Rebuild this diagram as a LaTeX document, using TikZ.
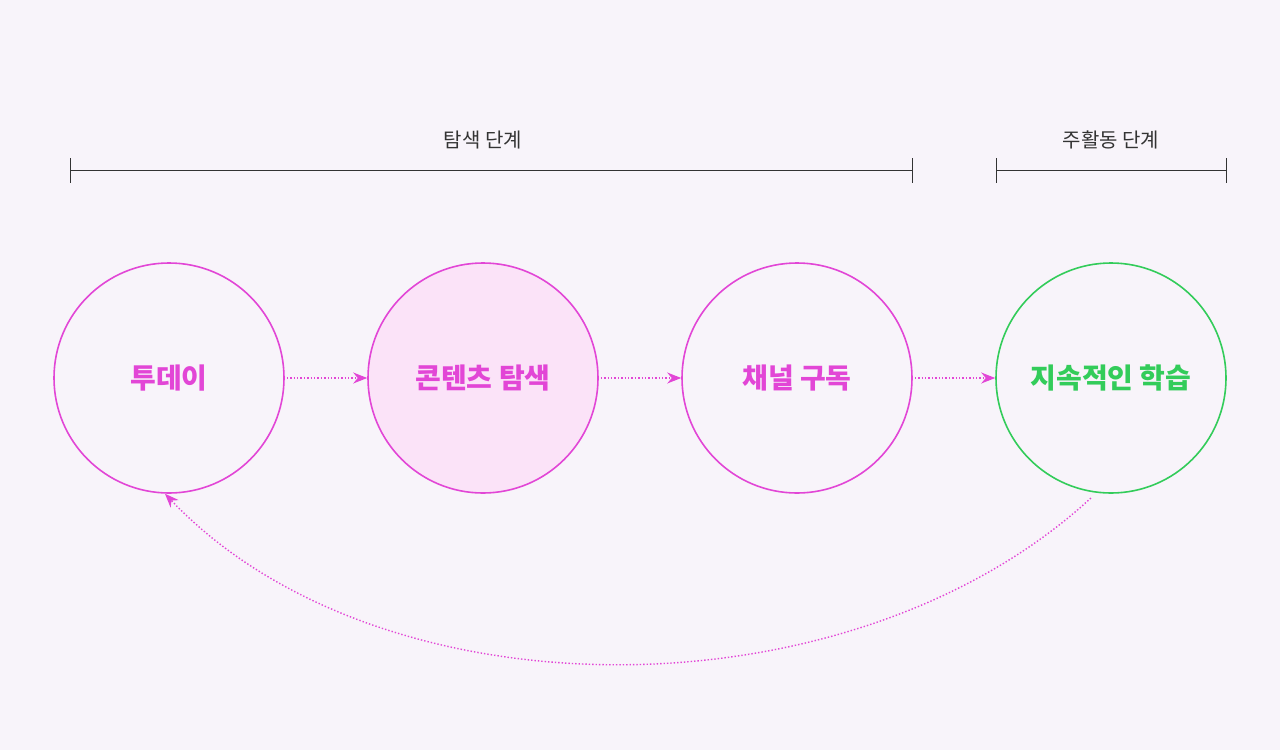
\documentclass[tikz,border=0pt]{standalone}
\usepackage{fontspec}
\setmainfont{Noto Sans CJK KR}
\usetikzlibrary{arrows.meta}
\definecolor{bg}{HTML}{F8F4FA}
\definecolor{mag}{HTML}{E246D6}
\definecolor{magfill}{HTML}{FBE3F8}
\definecolor{grn}{HTML}{33CC5A}
\definecolor{txt}{HTML}{333333}
\begin{document}
\begin{tikzpicture}[x=1pt,y=-1pt,
  stage/.style={circle,draw=mag,line width=1.6pt,minimum size=230pt,inner sep=0pt,font=\fontsize{28}{30}\selectfont\bfseries,text=mag},
  flow/.style={mag,line width=1.4pt,dotted,-{Stealth[length=14pt,width=11pt]}},
  brk/.style={txt,line width=0.8pt},
  hdr/.style={font=\fontsize{20}{22}\selectfont,text=txt}]
\fill[bg] (0,0) rectangle (1280,750);
\useasboundingbox (0,0) rectangle (1280,750);
\node[stage] (a) at (169,378) {투데이};
\node[stage,fill=magfill] (b) at (483,378) {콘텐츠 탐색};
\node[stage] (c) at (797,378) {채널 구독};
\node[stage,draw=grn,text=grn] (d) at (1111,378) {지속적인 학습};
\draw[flow] (a.east) ++(2,0) coordinate (a1) -- (b.west);
\draw[flow] (b.east) ++(2,0) coordinate (b1) -- (c.west);
\draw[flow] (c.east) ++(2,0) coordinate (c1) -- (d.west);
\draw[flow] (d.-100) ++(0,6) coordinate (d1) .. controls (850,720) and (380,720) .. (a.-92);
% brackets
\coordinate (l1) at (70,170); \coordinate (r1) at (912,170);
\draw[brk] (l1) -- (r1);
\draw[brk] (70,158) -- (70,183); \draw[brk] (912,158) -- (912,183);
\node[hdr] (h1) at (483,140) {탐색 단계};
\coordinate (l2) at (996,170); \coordinate (r2) at (1226,170);
\draw[brk] (l2) -- (r2);
\draw[brk] (996,158) -- (996,183); \draw[brk] (1226,158) -- (1226,183);
\node[hdr] (h2) at (1111,140) {주활동 단계};
\end{tikzpicture}
\end{document}
